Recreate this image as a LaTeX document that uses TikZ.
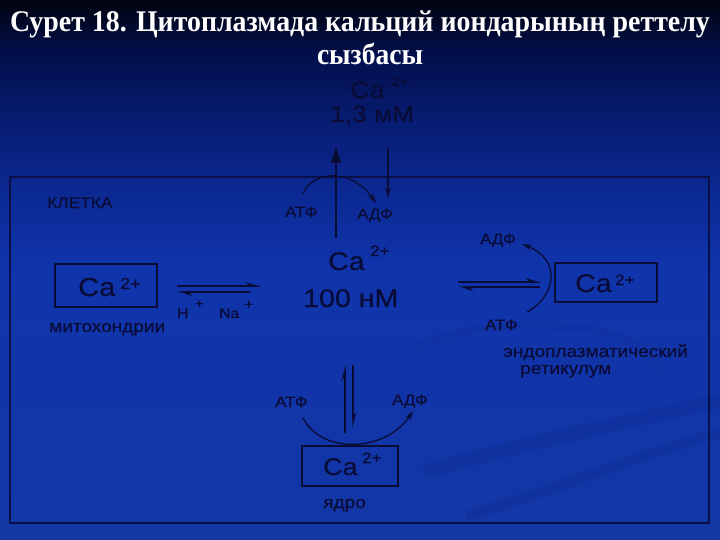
\documentclass[tikz,border=0pt]{standalone}
\usepackage{fontspec}
\setmainfont[FakeStretch=1.12,FakeBold=0.6]{Liberation Sans}
\newfontfamily\titlefont{Liberation Serif}
\usetikzlibrary{arrows.meta}
\definecolor{ink}{HTML}{0A0C38}
\definecolor{frame}{HTML}{0A0F48}
\definecolor{swoosh}{HTML}{0A1E78}
\definecolor{c0}{HTML}{1337A5}
\definecolor{c1}{HTML}{1034AB}
\definecolor{c2}{HTML}{0B2890}
\definecolor{c3}{HTML}{071C70}
\definecolor{c4}{HTML}{030F4C}
\definecolor{c5}{HTML}{00040F}
\pgfdeclareverticalshading{bgsh}{100bp}{color(0bp)=(c0); color(25bp)=(c0); color(50bp)=(c1); color(58bp)=(c2); color(64bp)=(c3); color(70bp)=(c4); color(75bp)=(c5); color(100bp)=(c5)}
\newcommand\fs[1]{\fontsize{#1}{#1}\selectfont}
\tikzset{
  txt/.style={inner sep=0pt, text=ink, anchor=base west},
  big/.style={txt, font=\fs{25.5}},
  supx/.style={txt, font=\fs{15}},
  lab/.style={txt, font=\fs{15}},
  nm/.style={txt, font=\fs{17}},
  boxx/.style={draw=ink, line width=1.4pt},
  ln/.style={draw=ink, line width=1.5pt},
  band/.style={draw=swoosh, line width=14pt, opacity=0.16, line cap=round},
  ttl/.style={inner sep=0pt, text=white, font=\titlefont\bfseries\fs{30}, anchor=base},
}
\begin{document}
\begin{tikzpicture}[x=1pt,y=-1pt]
\useasboundingbox (0,0) rectangle (720,540);
\shade[shading=bgsh] (0,0) rectangle (720,540);
% faint background swooshes
\draw[band] (430,470) .. controls (520,445) and (630,420) .. (725,400);
\draw[band, line width=10pt] (470,515) .. controls (570,485) and (650,450) .. (725,432);
\draw[band, line width=8pt, opacity=0.1] (420,345) .. controls (470,320) and (640,310) .. (660,370);
% title
\node[ttl] (t1) at (360,32) {\resizebox{700pt}{\height}{Сурет 18. Цитоплазмада кальций иондарының реттелу}};
\node[ttl] (t2) at (370,65) {\resizebox{106pt}{\height}{сызбасы}};
% cell frame
\draw[frame, line width=2.2pt] (10,177) rectangle (709,523);
\node[nm, font=\fs{15.5}] (cell) at (47,208) {КЛЕТКА};
% top external Ca
\node[big, font=\fs{24}] (caT) at (350,98) {Ca};
\node[supx, font=\fs{14}] (caTs) at (391,86) {2+};
\node[big, font=\fs{23.5}] (mM) at (330,122) {1,3 мМ};
% cytoplasm
\node[big] (caC) at (328,270) {Ca};
\node[supx] (caCs) at (370,256) {2+};
\node[big] (nM) at (303,307) {100 нМ};
% top transport
\coordinate (upS) at (336,238);
\coordinate (upE) at (336,147);
\coordinate (dnS) at (388,148);
\coordinate (dnE) at (388,198);
\draw[ln, line width=1.8pt, -{Triangle[length=16pt,width=10pt]}] (upS) -- (upE);
\draw[ln, -{Stealth[length=11pt,width=6pt]}] (dnS) -- (dnE);
\node[lab] (atpT) at (285,217) {АТФ};
\node[lab] (adpT) at (357,219) {АДФ};
\coordinate (arcTs) at (303,194);
\coordinate (arcTe) at (376,203);
\draw[ln, line width=1.3pt, -{Stealth[length=10pt,width=6pt]}] (arcTs) .. controls (312,170) and (352,168) .. (arcTe);
% mitochondria
\draw[boxx] (55,264) rectangle (157,307);
\node[big, font=\fs{26}] (caL) at (78,296) {Ca};
\node[supx, font=\fs{16}] (caLs) at (120,289) {2+};
\node[nm] (mito) at (49,332) {митохондрии};
\coordinate (lA) at (177,286);
\coordinate (lB) at (261,286);
\coordinate (lC) at (250,292);
\coordinate (lD) at (177,292);
\draw[ln, -{Stealth[length=13pt,width=8pt,harpoon]}] (lA) -- (lB);
\draw[ln, -{Stealth[length=13pt,width=8pt,harpoon]}] (lC) -- (lD);
\node[lab, font=\fs{14}] (H) at (177,318) {H};
\node[lab, font=\fs{13}] (Hs) at (195,308) {+};
\node[lab, font=\fs{14}] (Na) at (219,318) {Na};
\node[lab, font=\fs{14}] (Nas) at (244,309) {+};
% ER
\coordinate (rA) at (458,282);
\coordinate (rB) at (541,282);
\coordinate (rC) at (540,287);
\coordinate (rD) at (458,287);
\draw[ln, -{Stealth[length=13pt,width=8pt,harpoon]}] (rA) -- (rB);
\draw[ln, -{Stealth[length=13pt,width=8pt,harpoon]}] (rC) -- (rD);
\draw[boxx] (555,263) rectangle (657,302);
\node[big] (caR) at (575,292) {Ca};
\node[supx] (caRs) at (615,285) {2+};
\node[lab] (adpR) at (480,244) {АДФ};
\node[lab] (atpR) at (485,330) {АТФ};
\coordinate (arcRs) at (527,312);
\coordinate (arcRe) at (522,244);
\draw[ln, line width=1.3pt, -{Stealth[length=10pt,width=6pt]}] (arcRs) .. controls (556,296) and (562,260) .. (arcRe);
\node[nm] (er1) at (503,357) {эндоплазматический};
\node[nm] (er2) at (520,374) {ретикулум};
% nucleus
\coordinate (bA) at (345,433);
\coordinate (bB) at (345,365);
\coordinate (bC) at (353,365);
\coordinate (bD) at (353,428);
\draw[ln, -{Stealth[length=13pt,width=7pt,harpoon]}] (bA) -- (bB);
\draw[ln, -{Stealth[length=13pt,width=7pt,harpoon]}] (bC) -- (bD);
\node[lab] (atpB) at (275,407) {АТФ};
\node[lab] (adpB) at (392,405) {АДФ};
\coordinate (arcBs) at (303,418);
\coordinate (arcBe) at (413,411);
\draw[ln, line width=1.3pt, -{Stealth[length=10pt,width=6pt]}] (arcBs) .. controls (322,455) and (386,452) .. (arcBe);
\draw[boxx] (302,446) rectangle (398,486);
\node[big, font=\fs{24}] (caB) at (323,475) {Ca};
\node[supx] (caBs) at (362,463) {2+};
\node[nm] (nuc) at (323,508) {ядро};
\end{tikzpicture}
\end{document}
